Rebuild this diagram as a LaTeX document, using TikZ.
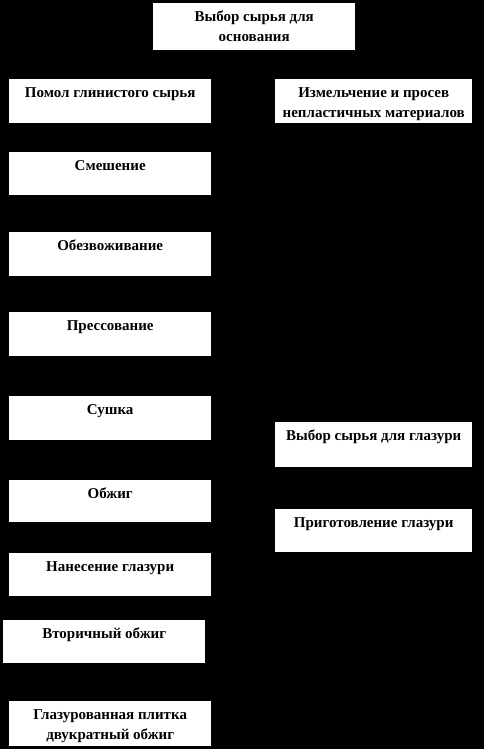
\documentclass[tikz,border=0pt]{standalone}
\usepackage{fontspec}
\setmainfont{Liberation Serif}
\usetikzlibrary{arrows.meta}
\begin{document}
\begin{tikzpicture}[x=1pt,y=-1pt,
  box/.style={draw=none,fill=white,inner sep=0pt,anchor=north west},
  lbl/.style={anchor=north,inner sep=0pt,align=center,font=\fontsize{15}{20}\selectfont\bfseries,text=black,yshift=-8pt},
  con/.style={draw=black,-{Stealth[length=5pt,width=4pt]},line width=0.6pt}]
\fill[black] (0,0) rectangle (484,749);
\useasboundingbox (0,0) rectangle (484,749);
% boxes
\node[box,minimum width=202pt,minimum height=47pt] (b0) at (153,3) {};
\node[box,minimum width=202pt,minimum height=44pt] (b1) at (9,79) {};
\node[box,minimum width=197pt,minimum height=44pt] (b2) at (275,79) {};
\node[box,minimum width=202pt,minimum height=43pt] (b3) at (9,152) {};
\node[box,minimum width=202pt,minimum height=44pt] (b4) at (9,232) {};
\node[box,minimum width=202pt,minimum height=44pt] (b5) at (9,312) {};
\node[box,minimum width=202pt,minimum height=44pt] (b6) at (9,396) {};
\node[box,minimum width=197pt,minimum height=45pt] (b7) at (275,422) {};
\node[box,minimum width=202pt,minimum height=42pt] (b8) at (9,480) {};
\node[box,minimum width=197pt,minimum height=43pt] (b9) at (275,509) {};
\node[box,minimum width=202pt,minimum height=43pt] (b10) at (9,553) {};
\node[box,minimum width=202pt,minimum height=43pt] (b11) at (3,620) {};
\node[box,minimum width=202pt,minimum height=45pt] (b12) at (9,701) {};
% labels
\node[lbl] (t0) at (b0.north) {Выбор сырья для\\основания};
\node[lbl] (t1) at (b1.north) {Помол глинистого сырья};
\node[lbl] (t2) at (b2.north) {Измельчение и просев\\непластичных материалов};
\node[lbl] (t3) at (b3.north) {Смешение};
\node[lbl] (t4) at (b4.north) {Обезвоживание};
\node[lbl] (t5) at (b5.north) {Прессование};
\node[lbl] (t6) at (b6.north) {Сушка};
\node[lbl] (t7) at (b7.north) {Выбор сырья для глазури};
\node[lbl] (t8) at (b8.north) {Обжиг};
\node[lbl] (t9) at (b9.north) {Приготовление глазури};
\node[lbl] (t10) at (b10.north) {Нанесение глазури};
\node[lbl] (t11) at (b11.north) {Вторичный обжиг};
\node[lbl] (t12) at (b12.north) {Глазурованная плитка\\двукратный обжиг};
% connectors (black on black, as in the reference)
\draw[con] (b0) -- (b1);
\draw[con] (b0) -- (b2);
\draw[con] (b1) -- (b3);
\draw[con] (b2.south) |- (b3.east);
\draw[con] (b3) -- (b4);
\draw[con] (b4) -- (b5);
\draw[con] (b5) -- (b6);
\draw[con] (b6) -- (b8);
\draw[con] (b8) -- (b10);
\draw[con] (b7) -- (b9);
\draw[con] (b9.south) |- (b10.east);
\draw[con] (b10) -- (b11);
\draw[con] (b11) -- (b12);
\end{tikzpicture}
\end{document}
